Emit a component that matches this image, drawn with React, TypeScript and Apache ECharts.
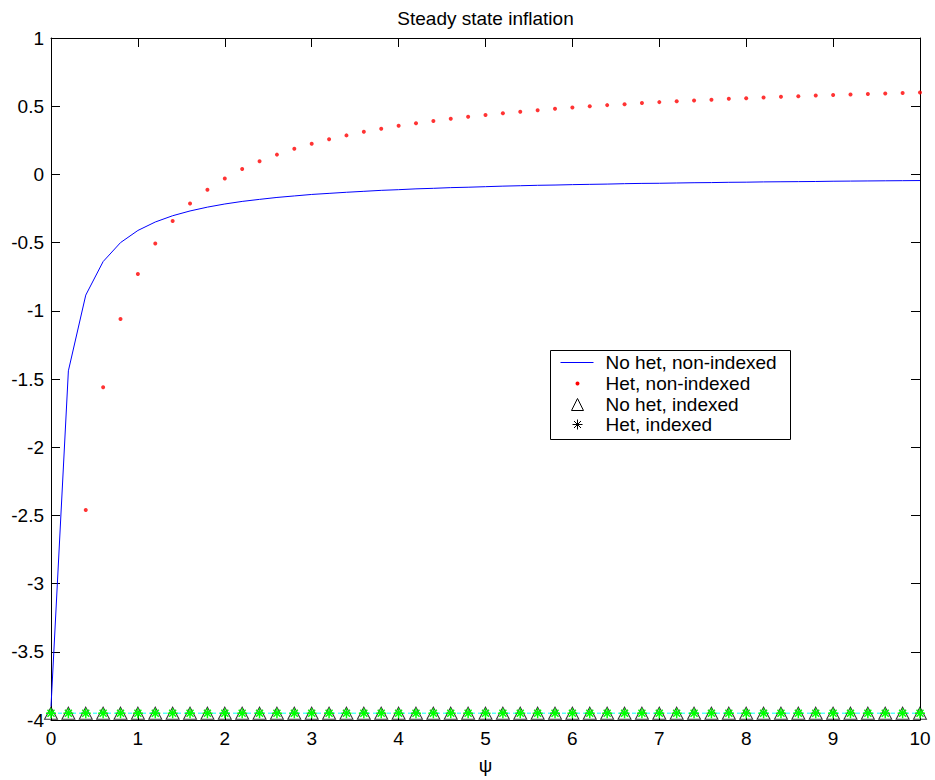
import React, { useEffect, useRef } from "react";
import * as echarts from "echarts";

const psi = [0, 0.2, 0.4, 0.6, 0.8, 1, 1.2, 1.4, 1.6, 1.8, 2, 2.2, 2.4, 2.6, 2.8, 3, 3.2, 3.4, 3.6, 3.8, 4, 4.2, 4.4, 4.6, 4.8, 5, 5.2, 5.4, 5.6, 5.8, 6, 6.2, 6.4, 6.6, 6.8, 7, 7.2, 7.4, 7.6, 7.8, 8, 8.2, 8.4, 8.6, 8.8, 9, 9.2, 9.4, 9.6, 9.8, 10];

const noHetNonIndexed = [-3.9, -1.44, -0.885, -0.639, -0.5, -0.411, -0.349, -0.303, -0.268, -0.24, -0.217, -0.198, -0.183, -0.169, -0.158, -0.147, -0.139, -0.131, -0.124, -0.117, -0.112, -0.106, -0.102, -0.097, -0.094, -0.09, -0.086, -0.083, -0.08, -0.078, -0.075, -0.073, -0.071, -0.068, -0.066, -0.065, -0.063, -0.061, -0.06, -0.058, -0.057, -0.055, -0.054, -0.053, -0.052, -0.05, -0.049, -0.048, -0.047, -0.046, -0.045];

const hetNonIndexed = [null, null, -2.46, -1.56, -1.06, -0.73, -0.506, -0.341, -0.213, -0.112, -0.03, 0.039, 0.096, 0.145, 0.188, 0.225, 0.257, 0.286, 0.312, 0.335, 0.356, 0.375, 0.392, 0.408, 0.423, 0.436, 0.449, 0.46, 0.471, 0.481, 0.491, 0.499, 0.508, 0.515, 0.523, 0.53, 0.536, 0.542, 0.548, 0.554, 0.559, 0.564, 0.569, 0.573, 0.578, 0.582, 0.586, 0.59, 0.593, 0.597, 0.6];

const noHetIndexed = [-3.95, -3.95, -3.95, -3.95, -3.95, -3.95, -3.95, -3.95, -3.95, -3.95, -3.95, -3.95, -3.95, -3.95, -3.95, -3.95, -3.95, -3.95, -3.95, -3.95, -3.95, -3.95, -3.95, -3.95, -3.95, -3.95, -3.95, -3.95, -3.95, -3.95, -3.95, -3.95, -3.95, -3.95, -3.95, -3.95, -3.95, -3.95, -3.95, -3.95, -3.95, -3.95, -3.95, -3.95, -3.95, -3.95, -3.95, -3.95, -3.95, -3.95, -3.95];

const hetIndexed = [-3.95, -3.95, -3.95, -3.95, -3.95, -3.95, -3.95, -3.95, -3.95, -3.95, -3.95, -3.95, -3.95, -3.95, -3.95, -3.95, -3.95, -3.95, -3.95, -3.95, -3.95, -3.95, -3.95, -3.95, -3.95, -3.95, -3.95, -3.95, -3.95, -3.95, -3.95, -3.95, -3.95, -3.95, -3.95, -3.95, -3.95, -3.95, -3.95, -3.95, -3.95, -3.95, -3.95, -3.95, -3.95, -3.95, -3.95, -3.95, -3.95, -3.95, -3.95];

const legendLabels = ["No het, non-indexed", "Het, non-indexed", "No het, indexed", "Het, indexed"];
const chartTitle = "Steady state inflation";

const FONT = "'Liberation Sans', Arial, Helvetica, sans-serif";
const FS = 19;
const ASTERISK = "path://M0,-1L0,1M-1,0L1,0M-0.7,-0.7L0.7,0.7M-0.7,0.7L0.7,-0.7";

function pairs(ys: (number | null)[]) {
  return psi.map((x, i) => [x, ys[i]]);
}

export default function App() {
  const ref = useRef<HTMLDivElement>(null);
  useEffect(() => {
    if (!ref.current) return;
    const chart = echarts.init(ref.current, undefined, { renderer: "svg" });
    const axisCommon = {
      axisLine: { show: true, onZero: false, lineStyle: { color: "#000", width: 1 } },
      axisTick: { show: true, inside: true, length: 9, lineStyle: { color: "#000" } },
      splitLine: { show: false },
    };
    const lx = 550, ly = 350;
    const rowY = [12, 33, 54, 74];
    chart.setOption({
      animation: false,
      backgroundColor: "#fff",
      grid: { left: 51, right: 15, top: 38, bottom: 58, containLabel: false },
      xAxis: [
        {
          type: "value", min: 0, max: 10, interval: 1, position: "bottom",
          name: "ψ", nameLocation: "middle", nameGap: 36,
          nameTextStyle: { fontFamily: FONT, fontSize: FS, color: "#000" },
          axisLabel: { fontFamily: FONT, fontSize: FS, color: "#000", margin: 9 },
          ...axisCommon,
        },
        {
          type: "value", min: 0, max: 10, interval: 1, position: "top",
          axisLabel: { show: false },
          ...axisCommon,
        },
      ],
      yAxis: [
        {
          type: "value", min: -4, max: 1, interval: 0.5, position: "left",
          axisLabel: { fontFamily: FONT, fontSize: FS, color: "#000", margin: 7 },
          ...axisCommon,
        },
        {
          type: "value", min: -4, max: 1, interval: 0.5, position: "right",
          axisLabel: { show: false },
          ...axisCommon,
        },
      ],
      series: [
        {
          name: legendLabels[0], type: "line", data: pairs(noHetNonIndexed),
          showSymbol: false, symbol: "none",
          lineStyle: { color: "#0000ff", width: 1 }, z: 3,
        },
        {
          name: legendLabels[1], type: "scatter", data: pairs(hetNonIndexed),
          symbol: "circle", symbolSize: 4,
          itemStyle: { color: "#ff0000" }, z: 3,
        },
        {
          name: legendLabels[2], type: "scatter", data: pairs(noHetIndexed),
          symbol: "triangle", symbolSize: [13, 12],
          itemStyle: { color: "rgba(0,0,0,0)", borderColor: "#000", borderWidth: 1 }, z: 4,
        },
        {
          name: legendLabels[3], type: "line", data: pairs(hetIndexed),
          symbol: ASTERISK, symbolSize: 10, showSymbol: true,
          lineStyle: { color: "#00ffff", width: 1, type: [4, 3] },
          itemStyle: { color: "rgba(0,0,0,0)", borderColor: "#00ff00", borderWidth: 1.5 }, z: 5,
        },
      ],
      graphic: [
        {
          type: "text", x: 485.5, y: 18,
          style: { text: chartTitle, fontFamily: FONT, fontSize: FS, fill: "#000", align: "center", verticalAlign: "middle" },
        },
        {
          type: "group", left: lx, top: ly,
          children: [
            { type: "rect", shape: { x: 0, y: 0, width: 240, height: 89 }, style: { fill: "#fff", stroke: "#000", lineWidth: 1 } },
            { type: "line", shape: { x1: 10, y1: rowY[0], x2: 43, y2: rowY[0] }, style: { stroke: "#0000ff", lineWidth: 1 } },
            { type: "circle", shape: { cx: 27, cy: rowY[1], r: 2 }, style: { fill: "#ff0000" } },
            { type: "polygon", shape: { points: [[27, rowY[2] - 6], [33, rowY[2] + 6], [21, rowY[2] + 6]] }, style: { fill: "none", stroke: "#000", lineWidth: 1 } },
            { type: "line", shape: { x1: 27, y1: rowY[3] - 5, x2: 27, y2: rowY[3] + 5 }, style: { stroke: "#000", lineWidth: 1 } },
            { type: "line", shape: { x1: 22, y1: rowY[3], x2: 32, y2: rowY[3] }, style: { stroke: "#000", lineWidth: 1 } },
            { type: "line", shape: { x1: 23.5, y1: rowY[3] - 3.5, x2: 30.5, y2: rowY[3] + 3.5 }, style: { stroke: "#000", lineWidth: 1 } },
            { type: "line", shape: { x1: 23.5, y1: rowY[3] + 3.5, x2: 30.5, y2: rowY[3] - 3.5 }, style: { stroke: "#000", lineWidth: 1 } },
            ...legendLabels.map((t, i) => ({
              type: "text", x: 55, y: rowY[i],
              style: { text: t, fontFamily: FONT, fontSize: FS, fill: "#000", verticalAlign: "middle" },
            })),
          ],
        },
      ],
    });
    return () => chart.dispose();
  }, []);
  return <div ref={ref} style={{ position: "fixed", left: 0, top: 0, width: 935, height: 780 }} />;
}
